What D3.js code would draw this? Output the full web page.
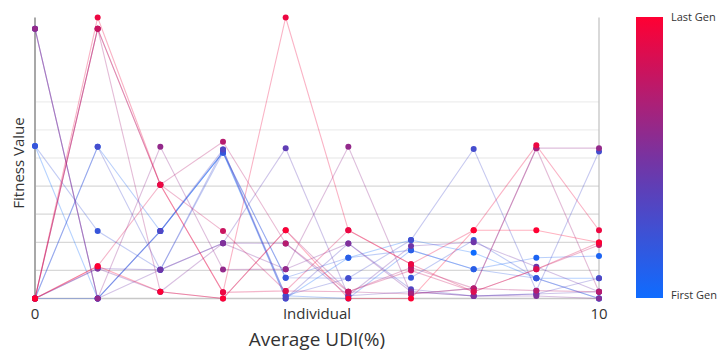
<!DOCTYPE html>
<html>
<head>
<meta charset="utf-8">
<script src="https://cdn.jsdelivr.net/npm/d3@7"></script>
<style>
  body { margin: 0; background: #fff; }
  text { font-family: "Open Sans", "Noto Sans", sans-serif; fill: #333; }
</style>
</head>
<body>
<div id="chart"></div>
<script>
// Individuals along the x axis
const individuals = d3.range(10);

// Fitness values per generation (first generation first)
const gen00 = [5.43, 0, 2.4, 5.2, 0, 1.45, 2.08, 1.63, 0.72, 0.72];
const gen01 = [0, 5.4, 2.4, 5.2, 0.1, 0, 1.72, 1.04, 1.45, 1.51];
const gen02 = [0, 0, 2.4, 5.2, 0.74, 1.45, 1.72, 1.04, 0.72, 0];
const gen03 = [5.43, 2.4, 1.02, 5.2, 0.74, 0.72, 0.74, 2.08, 0.72, 0];
const gen04 = [0, 5.4, 1.02, 5.3, 0.1, 0.72, 2.08, 5.32, 0.28, 5.23];
const gen05 = [9.6, 0, 2.4, 5.3, 0, 1.96, 0.33, 0.09, 0.16, 0.72];
const gen06 = [0, 1.07, 1.02, 1.97, 5.35, 0.1, 0.24, 0.09, 0.16, 0.24];
const gen07 = [9.6, 0, 1.02, 1.97, 1.96, 0.1, 1.87, 2.0, 1.13, 0.24];
const gen08 = [0, 1.07, 0.24, 1.97, 1.04, 1.96, 0.24, 0.09, 0.09, 0];
const gen09 = [9.6, 0, 5.4, 1.03, 1.04, 5.4, 0.16, 0.36, 5.35, 5.35];
const gen10 = [0, 9.6, 0.24, 0, 2.43, 0.24, 0.16, 0.36, 5.35, 0.24];
const gen11 = [0, 9.6, 4.05, 5.58, 1.96, 0.24, 1.1, 0.36, 0.28, 0.24];
const gen12 = [0, 9.6, 4.05, 2.4, 0.27, 0.24, 1.0, 0.24, 1.04, 1.9];
const gen13 = [0, 1.15, 4.05, 0.22, 0.27, 2.43, 1.22, 0.24, 1.04, 1.99];
const gen14 = [0, 10, 4.05, 0.22, 10, 2.43, 1.22, 2.43, 5.45, 2.43];
const gen15 = [0, 1.15, 0.24, 0, 2.43, 0, 0, 2.43, 2.43, 1.99];
const generations = [gen00, gen01, gen02, gen03, gen04, gen05, gen06, gen07,
                     gen08, gen09, gen10, gen11, gen12, gen13, gen14, gen15];

const gridValues = [1, 2, 3, 4, 5, 6, 7];
const xTickLabels = ["0", "Individual", "10"];

const width = 719, height = 356;
const svg = d3.select("#chart").append("svg")
  .attr("width", width)
  .attr("height", height);

const x = d3.scaleLinear().domain([0, 9]).range([35, 599]);
const y = d3.scaleLinear().domain([0, 10]).range([298.5, 17.5]);

// generation colour: blue -> purple -> red
const color = d3.scaleLinear()
  .domain([0, 0.45, 1])
  .range(["#0f6cff", "#6a38ac", "#ff0033"])
  .interpolate(d3.interpolateRgb);
const genT = i => i / (generations.length - 1);

// grid lines
svg.selectAll("line.grid")
  .data(gridValues)
  .enter().append("line")
  .attr("x1", x(0)).attr("x2", x(9))
  .attr("y1", d => y(d)).attr("y2", d => y(d))
  .attr("stroke", d => d <= 4 ? "#d8d8d8" : "#eeeeee")
  .attr("stroke-width", 1.3);

// axes frame
svg.append("line")
  .attr("x1", x(0)).attr("x2", x(9))
  .attr("y1", y(0)).attr("y2", y(0))
  .attr("stroke", "#c8c8c8").attr("stroke-width", 1.5);
svg.append("line")
  .attr("x1", x(0)).attr("x2", x(0))
  .attr("y1", y(10)).attr("y2", y(0))
  .attr("stroke", "#a8a8a8").attr("stroke-width", 2);
svg.append("line")
  .attr("x1", x(9)).attr("x2", x(9))
  .attr("y1", y(10)).attr("y2", y(0))
  .attr("stroke", "#c0c0c0").attr("stroke-width", 1.2);

// lines per generation
const line = d3.line()
  .x((d, i) => x(i))
  .y(d => y(d));

svg.selectAll("path.gen")
  .data(generations)
  .enter().append("path")
  .attr("class", "gen")
  .attr("d", line)
  .attr("fill", "none")
  .attr("stroke", (d, i) => color(genT(i)))
  .attr("stroke-opacity", 0.3)
  .attr("stroke-width", 1.1);

// points
generations.forEach((g, gi) => {
  svg.selectAll(null)
    .data(g)
    .enter().append("circle")
    .attr("cx", (d, i) => x(individuals[i]))
    .attr("cy", d => y(d))
    .attr("r", 3)
    .attr("fill", color(genT(gi)));
});

// x labels
svg.selectAll("text.xt")
  .data(xTickLabels)
  .enter().append("text")
  .attr("x", (d, i) => [x(0), (x(0) + x(9)) / 2, x(9)][i])
  .attr("y", 319)
  .attr("text-anchor", "middle")
  .style("font-size", "15px")
  .text(d => d);

svg.append("text")
  .attr("x", (x(0) + x(9)) / 2)
  .attr("y", 346)
  .attr("text-anchor", "middle")
  .style("font-size", "19px")
  .text("Average UDI(%)");

svg.append("text")
  .attr("transform", "translate(24,163) rotate(-90)")
  .attr("text-anchor", "middle")
  .style("font-size", "15px")
  .text("Fitness Value");

// colour bar
const defs = svg.append("defs");
const grad = defs.append("linearGradient")
  .attr("id", "genGrad")
  .attr("x1", 0).attr("x2", 0).attr("y1", 1).attr("y2", 0);
grad.selectAll("stop")
  .data(d3.range(0, 1.01, 0.1))
  .enter().append("stop")
  .attr("offset", d => d)
  .attr("stop-color", d => color(d));

svg.append("rect")
  .attr("x", 636).attr("y", 17)
  .attr("width", 27).attr("height", 281)
  .attr("fill", "url(#genGrad)");

svg.append("text")
  .attr("x", 671).attr("y", 21)
  .style("font-size", "11px")
  .text("Last Gen");
svg.append("text")
  .attr("x", 671).attr("y", 299)
  .style("font-size", "11px")
  .text("First Gen");
</script>
</body>
</html>
